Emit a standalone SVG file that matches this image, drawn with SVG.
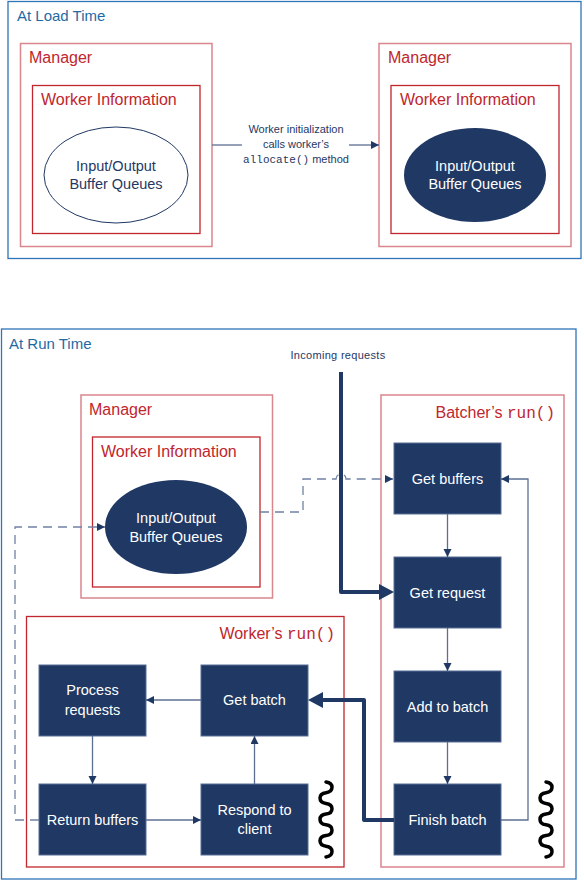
<svg xmlns="http://www.w3.org/2000/svg" width="584" height="881" viewBox="0 0 584 881">
<style>
.sec{fill:none;stroke:#2E75B6;stroke-width:1.3}
.sect{font-family:"Liberation Sans",Arial,sans-serif;font-size:15px;fill:#1F6AA5}
.lb{fill:none;stroke:#D9868C;stroke-width:1.5}
.db{fill:none;stroke:#C0262D;stroke-width:1.3}
.rt{font-family:"Liberation Sans",Arial,sans-serif;font-size:16px;fill:#C0262D}
.mono{font-family:"Liberation Mono","Courier New",monospace}
.box{fill:#1F3864;stroke:#5A6E96;stroke-width:1}
.bt{font-family:"Liberation Sans",Arial,sans-serif;font-size:14.5px;fill:#FFFFFF;text-anchor:middle}
.et{font-family:"Liberation Sans",Arial,sans-serif;font-size:14.5px;text-anchor:middle}
.lab{font-family:"Liberation Sans",Arial,sans-serif;font-size:11px;fill:#1F3864;text-anchor:middle}
.thin{stroke:#5C6F91;stroke-width:1.3;fill:none}
.dash{stroke:#6F82A3;stroke-width:1.3;fill:none;stroke-dasharray:9 6}
.thick{stroke:#1F3864;stroke-width:4;fill:none;stroke-linejoin:round}
.sq{stroke:#000;stroke-width:3.5;fill:none;stroke-linecap:round}
</style>
<defs>
<marker id="a" markerUnits="userSpaceOnUse" markerWidth="9" markerHeight="9" refX="8" refY="4" orient="auto"><path d="M0,0 L8,4 L0,8 z" fill="#1F3864"/></marker>
<marker id="A" markerUnits="userSpaceOnUse" markerWidth="17" markerHeight="17" refX="7" refY="8" orient="auto"><path d="M0,0 L15,8 L0,16 z" fill="#1F3864"/></marker>
</defs>

<!-- Load time -->
<g id="loadtime">
<rect class="sec" x="8" y="1.5" width="573" height="257"/>
<text class="sect" x="17" y="21">At Load Time</text>
</g>
<g id="mgr1">
<rect class="lb" x="20.5" y="43.5" width="191.5" height="203"/>
<text class="rt" x="29" y="63">Manager</text>
</g>
<g id="wi1">
<rect class="db" x="32.5" y="85.5" width="167.5" height="148"/>
<text class="rt" x="41" y="105">Worker Information</text>
</g>
<g id="q1">
<ellipse cx="116" cy="175" rx="72" ry="48" fill="#fff" stroke="#1F3864" stroke-width="1"/>
<text class="et" x="116" y="171" fill="#1F3864">Input/Output</text>
<text class="et" x="116" y="189" fill="#1F3864">Buffer Queues</text>
</g>
<g id="mgr2">
<rect class="lb" x="379" y="43.5" width="192" height="203"/>
<text class="rt" x="388" y="63">Manager</text>
</g>
<g id="wi2">
<rect class="db" x="391" y="85.5" width="168" height="148"/>
<text class="rt" x="400" y="105">Worker Information</text>
</g>
<g id="q2">
<ellipse cx="475" cy="175" rx="71" ry="47" fill="#1F3864"/>
<text class="et" x="475" y="171" fill="#fff">Input/Output</text>
<text class="et" x="475" y="189" fill="#fff">Buffer Queues</text>
</g>

<!-- Run time -->
<g id="runtime">
<rect class="sec" x="1.5" y="329" width="574.5" height="550"/>
<text class="sect" x="9" y="349">At Run Time</text>
</g>
<g id="mgr3">
<rect class="lb" x="81" y="395" width="191.5" height="203"/>
<text class="rt" x="89" y="415">Manager</text>
</g>
<g id="wi3">
<rect class="db" x="92.5" y="437" width="167.5" height="150"/>
<text class="rt" x="101" y="457">Worker Information</text>
</g>
<g id="q3">
<ellipse cx="176" cy="527" rx="71" ry="47" fill="#1F3864"/>
<text class="et" x="176" y="523" fill="#fff">Input/Output</text>
<text class="et" x="176" y="542" fill="#fff">Buffer Queues</text>
</g>
<g id="batcher">
<rect class="lb" x="381" y="395" width="183" height="472"/>
<text class="rt" x="555" y="418" text-anchor="end">Batcher’s <tspan class="mono">run()</tspan></text>
</g>
<g id="workerrun">
<rect class="db" x="26.5" y="616.5" width="317.5" height="250.5"/>
<text class="rt" x="335" y="639" text-anchor="end">Worker’s <tspan class="mono">run()</tspan></text>
</g>
<g id="getbuffers"><rect class="box" x="394" y="443" width="107" height="71"/><text class="bt" x="447.5" y="484">Get buffers</text></g>
<g id="getrequest"><rect class="box" x="394" y="557" width="107" height="71"/><text class="bt" x="447.5" y="598">Get request</text></g>
<g id="addtobatch"><rect class="box" x="394" y="671" width="107" height="71"/><text class="bt" x="447.5" y="712">Add to batch</text></g>
<g id="finishbatch"><rect class="box" x="394" y="784" width="107" height="71"/><text class="bt" x="447.5" y="825">Finish batch</text></g>
<g id="processrequests"><rect class="box" x="39" y="665" width="107" height="71"/><text class="bt" x="92.5" y="695">Process</text><text class="bt" x="92.5" y="715">requests</text></g>
<g id="getbatch"><rect class="box" x="201" y="665" width="107" height="71"/><text class="bt" x="254.5" y="705">Get batch</text></g>
<g id="returnbuffers"><rect class="box" x="39" y="784" width="107" height="71"/><text class="bt" x="92.5" y="825">Return buffers</text></g>
<g id="respond"><rect class="box" x="201" y="784" width="107" height="71"/><text class="bt" x="254.5" y="815">Respond to</text><text class="bt" x="254.5" y="834">client</text></g>
<g id="squiggles">
<path class="sq" d="M326,782 c8,1 8,9.7 0,10.7 c-8,1 -8,9.7 0,10.7 c8,1 8,9.7 0,10.7 c-8,1 -8,9.7 0,10.7 c8,1 8,9.7 0,10.7 c-8,1 -8,9.7 0,10.7 c8,1 8,9.7 0,10.7"/>
<path class="sq" d="M546,782 c8,1 8,9.7 0,10.7 c-8,1 -8,9.7 0,10.7 c8,1 8,9.7 0,10.7 c-8,1 -8,9.7 0,10.7 c8,1 8,9.7 0,10.7 c-8,1 -8,9.7 0,10.7 c8,1 8,9.7 0,10.7"/>
</g>

<g id="connectors">
<path class="thin" d="M212,145 H242"/>
<path class="thin" d="M349,145 H379" marker-end="url(#a)"/>
<text class="lab" x="296" y="133">Worker initialization</text>
<text class="lab" x="296" y="148">calls worker’s</text>
<text class="lab" x="296" y="163"><tspan class="mono">allocate()</tspan> method</text>

<text class="lab" x="338" y="359" letter-spacing="0.3">Incoming requests</text>
<path class="thick" d="M341,372 V592 H386" marker-end="url(#A)"/>
<path class="thick" d="M394,820 H364 V700 H316" marker-end="url(#A)"/>

<path class="dash" d="M260,512 H303 V479 H336 A5,5 0 0 1 346,479 H393" marker-end="url(#a)"/>
<path class="dash" d="M39,820 H15 V527 H105" marker-end="url(#a)"/>

<path class="thin" d="M447.5,514 V557" marker-end="url(#a)"/>
<path class="thin" d="M447.5,628 V671" marker-end="url(#a)"/>
<path class="thin" d="M447.5,742 V784" marker-end="url(#a)"/>
<path class="thin" d="M501,820 H528 V479 H501" marker-end="url(#a)"/>

<path class="thin" d="M201,700 H146" marker-end="url(#a)"/>
<path class="thin" d="M92.5,736 V784" marker-end="url(#a)"/>
<path class="thin" d="M146,820 H201" marker-end="url(#a)"/>
<path class="thin" d="M254.5,784 V736" marker-end="url(#a)"/>
</g>
</svg>
